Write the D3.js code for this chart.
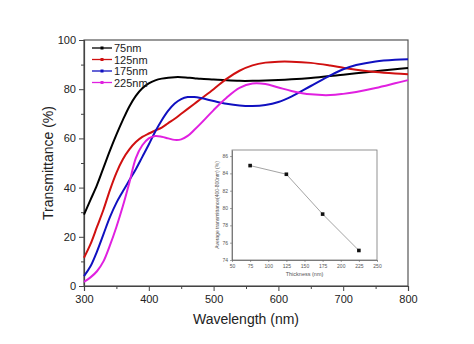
<!DOCTYPE html>
<html>
<head>
<meta charset="utf-8">
<script src="https://cdn.jsdelivr.net/npm/d3@7"></script>
<style>
  html, body { margin: 0; padding: 0; background: #fff; }
  svg { display: block; font-family: Arial, "Liberation Sans", sans-serif; }
</style>
</head>
<body>
<svg id="chart" width="474" height="344"></svg>
<script>
// Transmittance spectra of films of different thickness
const wavelengths = [300,310,320,330,340,350,360,370,380,390,400,410,420,430,440,450,460,470,480,500,520,540,560,580,600,620,650,680,700,720,750,780,800];
const t75  = [29,35,41,48,55,61.5,67.5,73,77.3,80.4,82.4,83.6,84.3,84.7,84.9,84.9,84.7,84.5,84.2,83.9,83.6,83.4,83.4,83.5,83.7,84,84.6,85.4,85.9,86.5,87.3,88.1,88.6];
const t125 = [11.5,17,24,31,39,46,51.5,55.5,58.5,60.6,62,63.2,64.4,66.2,68,70,72,74,76,80,84.2,87.5,89.7,90.8,91.2,91.2,90.7,89.6,88.7,87.9,87,86.4,86.1];
const t175 = [4,8,14,21,28,33.8,38.5,43,47.5,52.5,57.5,62.8,67.4,71.3,74.2,76,76.8,76.8,76.4,75.2,74.1,73.4,73.2,73.6,74.8,77,81.3,85.6,88.1,89.8,91.3,92,92.2];
const t225 = [1.7,3.5,6,10,16.5,24,32.5,42,52,57.2,60,61,60.7,60,59.4,59.6,61,63.4,66,71.5,76.5,80.5,82.3,82.1,80.7,79.3,77.9,77.6,78.1,78.9,80.5,82.4,83.7];
const seriesNames = ["75nm","125nm","175nm","225nm"];
const seriesColors = ["#000000","#d01010","#1010c0","#e020e0"];
const seriesValues = [t75, t125, t175, t225];

const xTicks = [300,400,500,600,700,800];
const yTicks = [0,20,40,60,80,100];

// Inset: average transmittance (400-800 nm) against film thickness
const thickness = [75,125,175,225];
const avgTransmittance = [84.9,83.9,79.3,75.1];
const insetXTicks = [50,75,100,125,150,175,200,225,250];
const insetYTicks = [74,76,78,80,82,84,86];

const svg = d3.select("#chart");
const axisColor = "#444";
const M = { left: 84, right: 408, top: 40, bottom: 286 };

const x = d3.scaleLinear().domain([300, 800]).range([M.left, M.right]);
const y = d3.scaleLinear().domain([0, 100]).range([M.bottom, M.top]);

// frame
svg.append("rect")
  .attr("x", M.left).attr("y", M.top)
  .attr("width", M.right - M.left).attr("height", M.bottom - M.top)
  .attr("fill", "none").attr("stroke", "#555").attr("stroke-width", 1.2);

function styleAxis(g, fontSize) {
  g.select(".domain").attr("stroke", axisColor).attr("stroke-width", 1.2);
  g.selectAll(".tick line").attr("stroke", axisColor);
  g.selectAll(".tick text").attr("fill", "#222").style("font-size", fontSize + "px")
    .style("font-family", "Arial, 'Liberation Sans', sans-serif");
}

// main axes (major + minor ticks)
const gx = svg.append("g").attr("transform", `translate(0,${M.bottom})`)
  .call(d3.axisBottom(x).tickValues(xTicks).tickSizeOuter(0).tickSize(5).tickPadding(4));
styleAxis(gx, 11);
svg.append("g").attr("transform", `translate(0,${M.bottom})`)
  .call(d3.axisBottom(x).tickValues(d3.range(350, 800, 100)).tickSize(3).tickFormat(""))
  .call(g => { g.select(".domain").remove(); g.selectAll("line").attr("stroke", axisColor); });

const gy = svg.append("g").attr("transform", `translate(${M.left},0)`)
  .call(d3.axisLeft(y).tickValues(yTicks).tickSizeOuter(0).tickSize(5).tickPadding(3));
styleAxis(gy, 11);
svg.append("g").attr("transform", `translate(${M.left},0)`)
  .call(d3.axisLeft(y).tickValues(d3.range(10, 100, 20)).tickSize(3).tickFormat(""))
  .call(g => { g.select(".domain").remove(); g.selectAll("line").attr("stroke", axisColor); });

// axis titles
svg.append("text")
  .attr("x", (M.left + M.right) / 2).attr("y", 324)
  .attr("text-anchor", "middle").attr("fill", "#222")
  .style("font-size", "14px").text("Wavelength (nm)");
svg.append("text")
  .attr("transform", `translate(53,${(M.top + M.bottom) / 2}) rotate(-90)`)
  .attr("text-anchor", "middle").attr("fill", "#222")
  .style("font-size", "14px").text("Transmittance (%)");

// spectra
const line = d3.line()
  .x((d, i) => x(wavelengths[i]))
  .y(d => y(d))
  .curve(d3.curveCatmullRom.alpha(0.5));

const plot = svg.append("g");
seriesValues.forEach((vals, k) => {
  plot.append("path")
    .datum(vals)
    .attr("d", line)
    .attr("fill", "none")
    .attr("stroke", seriesColors[k])
    .attr("stroke-width", 2);
});

// legend
const legend = svg.append("g");
seriesNames.forEach((name, k) => {
  const ly = 48 + k * 11.5;
  legend.append("line")
    .attr("x1", 92).attr("x2", 112).attr("y1", ly).attr("y2", ly)
    .attr("stroke", seriesColors[k]).attr("stroke-width", 1.3);
  legend.append("rect")
    .attr("x", 100.5).attr("y", ly - 1.5).attr("width", 3).attr("height", 3)
    .attr("fill", seriesColors[k]);
  legend.append("text")
    .attr("x", 114).attr("y", ly + 4)
    .attr("fill", "#222").style("font-size", "11px").text(name);
});

// inset chart
const I = { left: 232, right: 377, top: 150, bottom: 260 };
svg.append("rect")
  .attr("x", 206).attr("y", 143).attr("width", 180).attr("height", 136)
  .attr("fill", "#fff");

const ix = d3.scaleLinear().domain([50, 250]).range([I.left, I.right]);
const iy = d3.scaleLinear().domain([74, 86.7]).range([I.bottom, I.top]);

svg.append("rect")
  .attr("x", I.left).attr("y", I.top)
  .attr("width", I.right - I.left).attr("height", I.bottom - I.top)
  .attr("fill", "none").attr("stroke", "#777").attr("stroke-width", 0.8);

const igx = svg.append("g").attr("transform", `translate(0,${I.bottom})`)
  .call(d3.axisBottom(ix).tickValues(insetXTicks).tickSize(2).tickSizeOuter(0).tickPadding(2));
igx.select(".domain").attr("stroke", "#666").attr("stroke-width", 0.8);
igx.selectAll(".tick line").attr("stroke", "#666").attr("stroke-width", 0.6);
igx.selectAll(".tick text").attr("fill", "#555").style("font-size", "5px");

const igy = svg.append("g").attr("transform", `translate(${I.left},0)`)
  .call(d3.axisLeft(iy).tickValues(insetYTicks).tickSize(2).tickSizeOuter(0).tickPadding(2));
igy.select(".domain").attr("stroke", "#666").attr("stroke-width", 0.8);
igy.selectAll(".tick line").attr("stroke", "#666").attr("stroke-width", 0.6);
igy.selectAll(".tick text").attr("fill", "#555").style("font-size", "5px");

svg.append("text")
  .attr("x", (I.left + I.right) / 2).attr("y", 276)
  .attr("text-anchor", "middle").attr("fill", "#555")
  .style("font-size", "5.5px").text("Thickness (nm)");
svg.append("text")
  .attr("transform", `translate(219,${(I.top + I.bottom) / 2}) rotate(-90)`)
  .attr("text-anchor", "middle").attr("fill", "#555")
  .style("font-size", "5px").text("Average transmittance(400-800nm) (%)");

svg.append("path")
  .datum(avgTransmittance)
  .attr("d", d3.line().x((d, i) => ix(thickness[i])).y(d => iy(d)))
  .attr("fill", "none").attr("stroke", "#999").attr("stroke-width", 0.9);

svg.append("g").selectAll("rect")
  .data(avgTransmittance)
  .join("rect")
  .attr("x", (d, i) => ix(thickness[i]) - 1.8)
  .attr("y", d => iy(d) - 1.8)
  .attr("width", 3.6).attr("height", 3.6)
  .attr("fill", "#111");
</script>
</body>
</html>
